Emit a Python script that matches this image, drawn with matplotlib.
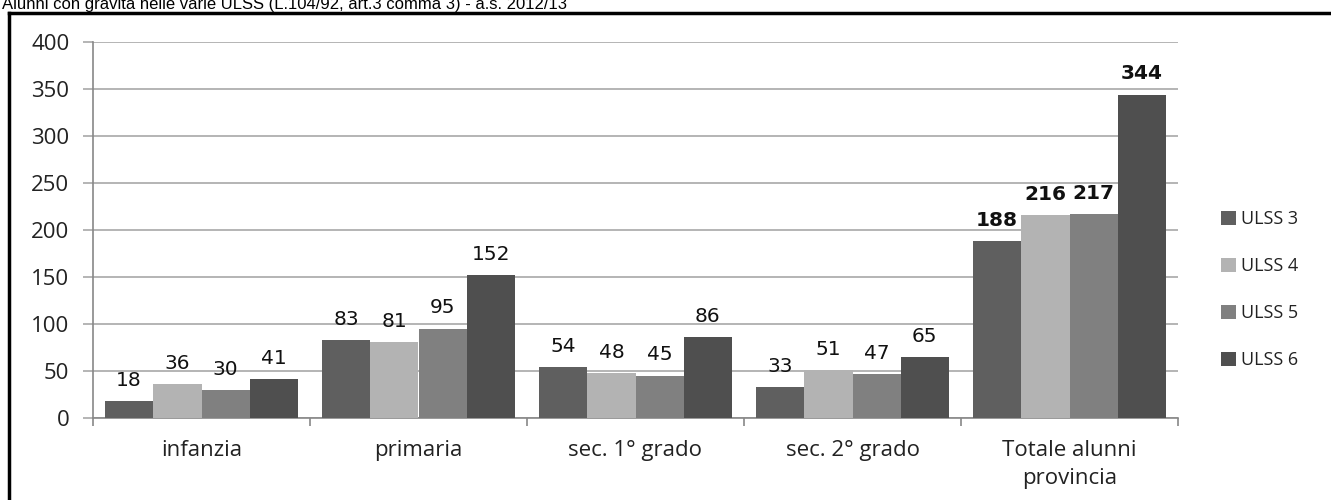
import matplotlib.pyplot as plt
import numpy as np
from matplotlib.lines import Line2D

categories = ["infanzia", "primaria", "sec. 1° grado", "sec. 2° grado", "Totale alunni\nprovincia"]
series_names = ["ULSS 3", "ULSS 4", "ULSS 5", "ULSS 6"]
ulss3 = [18, 83, 54, 33, 188]
ulss4 = [36, 81, 48, 51, 216]
ulss5 = [30, 95, 45, 47, 217]
ulss6 = [41, 152, 86, 65, 344]
colors = ["#5f5f5f", "#b3b3b3", "#808080", "#4f4f4f"]

title = "Alunni con gravità nelle varie ULSS (L.104/92, art.3 comma 3) - a.s. 2012/13"

fig = plt.figure(figsize=(13.31, 5), dpi=100)
W, H = 1331, 500
ax = fig.add_axes([93 / W, 82 / H, (1178 - 93) / W, 376 / H])

x = np.arange(len(categories))
bw = 1 / 4.5
data = [ulss3, ulss4, ulss5, ulss6]
for i, (vals, c, name) in enumerate(zip(data, colors, series_names)):
    pos = x + (i - 1.5) * bw
    ax.bar(pos, vals, width=bw, color=c, label=name, zorder=3)
    for j, (p, v) in enumerate(zip(pos, vals)):
        bold = j == len(categories) - 1
        ax.text(p, v + 12, str(v), ha="center", va="bottom", fontsize=14.5,
                fontweight="bold" if bold else "normal", color="#111111",
                family="DejaVu Sans")

ax.set_xlim(-0.5, len(categories) - 0.5)
ax.set_ylim(0, 400)
ax.set_yticks(range(0, 401, 50))
ax.grid(axis="y", color="#a8a8a8", linewidth=1.2, zorder=0)
ax.set_xticks(x)
ax.set_xticklabels(categories, family="Open Sans", fontsize=16, color="#222222",
                   linespacing=1.45)
ax.set_xticks(np.arange(-0.5, len(categories), 1), minor=True)
ax.tick_params(axis="x", which="major", length=0, pad=16)
ax.tick_params(axis="x", which="minor", length=6, color="#888888", width=1.2)
ax.tick_params(axis="y", length=7, color="#a8a8a8", width=1.2, pad=10,
               labelsize=16, labelcolor="#222222")
for lab in ax.get_yticklabels():
    lab.set_family("Open Sans")
for s in ["top", "right"]:
    ax.spines[s].set_visible(False)
ax.spines["left"].set_color("#888888")
ax.spines["bottom"].set_color("#888888")
ax.spines["left"].set_linewidth(1.2)
ax.spines["bottom"].set_linewidth(1.2)

leg = fig.legend(loc="upper left", bbox_to_anchor=(1205 / W, 1 - 194 / H),
                 frameon=False, prop={"family": "Open Sans", "size": 13},
                 handlelength=0.8, handleheight=0.8, handletextpad=0.3,
                 labelspacing=1.6)
for t in leg.get_texts():
    t.set_color("#222222")

# frame around the chart and clipped title
fig.add_artist(Line2D([9 / W, 1], [1 - 13 / H, 1 - 13 / H], color="black", lw=2.5,
                      transform=fig.transFigure))
fig.add_artist(Line2D([9 / W, 9 / W], [0, 1 - 13 / H], color="black", lw=2.5,
                      transform=fig.transFigure))
fig.text(2 / W, 1 - 9 / H, title, family="Liberation Sans", fontsize=12,
         va="baseline", ha="left", color="black")

fig.savefig("out.png", dpi=100)
